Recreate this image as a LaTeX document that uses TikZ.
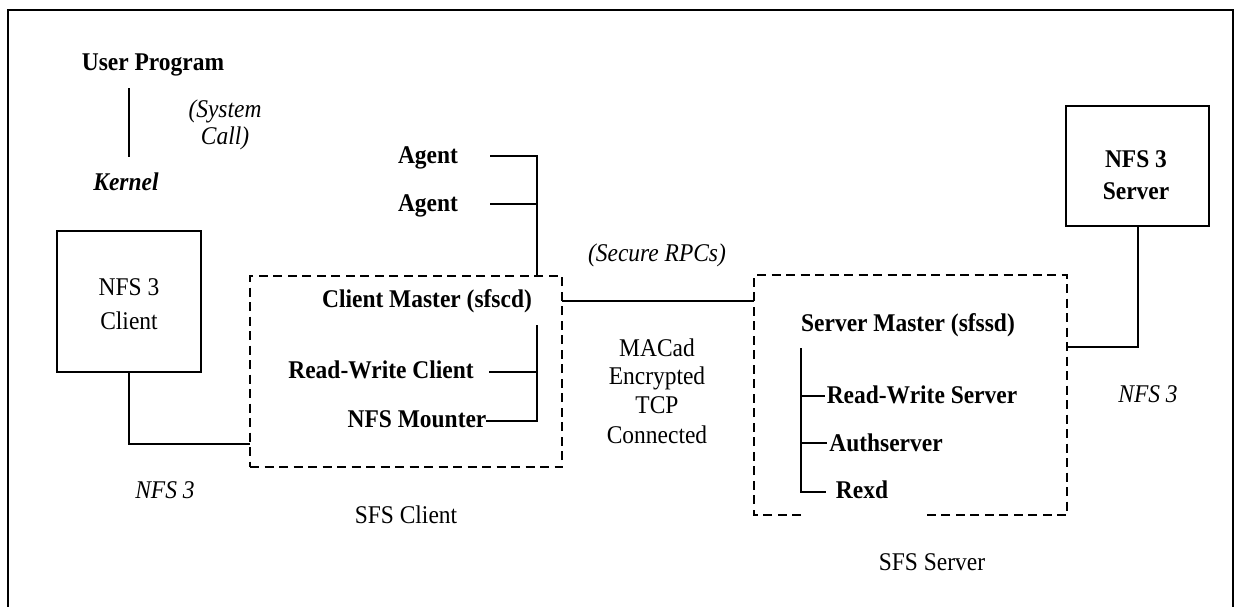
\documentclass[tikz,border=0pt]{standalone}
\usepackage{fontspec}
\setmainfont{Liberation Serif}[FakeStretch=0.92]
\begin{document}
\begin{tikzpicture}[x=1pt,y=-1pt,
  every node/.style={inner sep=0pt, outer sep=0pt},
  lbl/.style={anchor=base, font=\fontsize{25.5}{30}\selectfont},
  bold/.style={anchor=base, font=\fontsize{25.5}{30}\selectfont\bfseries},
  ital/.style={anchor=base, font=\fontsize{25.5}{30}\selectfont\itshape},
  bital/.style={anchor=base, font=\fontsize{25.5}{30}\selectfont\bfseries\itshape},
  solidbox/.style={draw, rectangle, line width=1.4pt},
  groupbox/.style={line width=1.3pt, dash pattern=on 9pt off 5.5pt},
  wire/.style={line width=1.4pt},
]
\useasboundingbox (0,0) rectangle (1240,606);

% outer frame (runs past the lower edge)
\draw[line width=1.8pt] (8,630) -- (8,10) -- (1233,10) -- (1233,630);

% boxes
\node[solidbox, minimum width=144pt, minimum height=141pt] (nfsc) at (129,301.5) {};
\node[solidbox, minimum width=143pt, minimum height=120pt] (nfss) at (1137.5,166) {};
\node[draw, rectangle, groupbox, minimum width=312pt, minimum height=191pt] (cbox) at (406,371.5) {};
\node[rectangle, minimum width=313pt, minimum height=240pt] (sbox) at (910.5,395) {};

% server group outline, open along part of its lower edge
\coordinate (gapL) at (801,515);
\coordinate (gapR) at (922,515);
\draw[groupbox] (gapL) -- (sbox.south west) -- (sbox.north west)
  -- (sbox.north east) -- (sbox.south east) -- (gapR);

% labels
\node[bold] (up) at (153,70) {User Program};
\node[ital] (sys1) at (225,117) {(System};
\node[ital] (sys2) at (225,144) {Call)};
\node[bital] (kern) at (126,190) {Kernel};
\node[lbl] (nfsct1) at (129,295) {NFS 3};
\node[lbl] (nfsct2) at (129,329) {Client};
\node[bold] (ag1) at (428,163) {Agent};
\node[bold] (ag2) at (428,211) {Agent};
\node[bold] (cm) at (427,307) {Client Master (sfscd)};
\node[bold] (rwc) at (381,378) {Read-Write Client};
\node[bold] (nm) at (417,427) {NFS Mounter};
\node[ital] (rpc) at (657,261) {(Secure RPCs)};
\node[lbl] (mac1) at (657,356) {MACad};
\node[lbl] (mac2) at (657,384) {Encrypted};
\node[lbl] (mac3) at (657,413) {TCP};
\node[lbl] (mac4) at (657,443) {Connected};
\node[ital] (nfsl) at (165,498) {NFS 3};
\node[lbl] (sfsc) at (406,523) {SFS Client};
\node[bold] (sm) at (908,331) {Server Master (sfssd)};
\node[bold] (rws) at (922,403) {Read-Write Server};
\node[bold] (auth) at (886,451) {Authserver};
\node[bold] (rexd) at (862,498) {Rexd};
\node[ital] (nfsr) at (1148,402) {NFS 3};
\node[lbl] (sfss) at (932,570) {SFS Server};
\node[bold] (nfsst1) at (1136,167) {NFS 3};
\node[bold] (nfsst2) at (1136,199) {Server};

% system call link
\coordinate (callT) at (129,88);
\coordinate (callB) at (129,157);
\draw[wire] (callT) -- (callB);

% agents to client master
\coordinate (agbusT) at (537,156);
\coordinate (ag1w) at (490,156);
\coordinate (ag2w) at (490,204);
\draw[wire] (ag1w) -- (agbusT) -- (agbusT |- cbox.north);
\draw[wire] (ag2w) -- (ag2w -| agbusT);

% secure RPC channel
\draw[wire] (cbox.east |- 0,301) -- (sbox.west |- 0,301);

% client-side tree
\coordinate (cbT) at (537,325);
\coordinate (cbB) at (537,421);
\coordinate (rwcw) at (489,372);
\draw[wire] (cbT) -- (cbB) -- (nm.east |- cbB);
\draw[wire] (rwcw) -- (rwcw -| cbT);

% server-side tree
\coordinate (sbT) at (801,348);
\coordinate (sbB) at (801,492);
\coordinate (brw) at (825,396);
\coordinate (bau) at (827,443);
\coordinate (brx) at (826,492);
\draw[wire] (sbT) -- (sbB) -- (brx);
\draw[wire] (brw -| sbT) -- (brw);
\draw[wire] (bau -| sbT) -- (bau);

% NFS 3 links
\coordinate (nfsbend) at (129,444);
\draw[wire] (nfsc.south) -- (nfsbend) -- (nfsbend -| cbox.west);
\coordinate (srvbend) at (1138,347);
\draw[wire] (sbox.east |- srvbend) -- (srvbend) -- (srvbend |- nfss.south);
\end{tikzpicture}
\end{document}
